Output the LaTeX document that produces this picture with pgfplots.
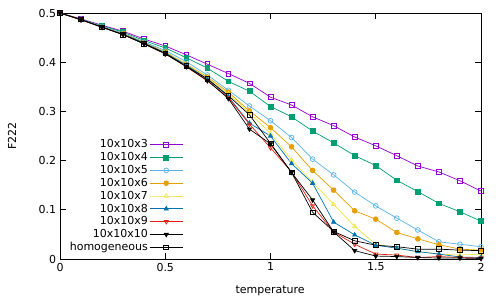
\documentclass[border=0pt]{standalone}
\usepackage{fontspec}
\setmainfont{DejaVu Sans}
\usepackage{pgfplots}
\usepackage{pgfplotstable}
\pgfplotsset{compat=1.18}
\definecolor{gpPurple}{HTML}{9400D3}
\definecolor{gpGreen}{HTML}{009E73}
\definecolor{gpCyan}{HTML}{56B4E9}
\definecolor{gpOrange}{HTML}{E69F00}
\definecolor{gpYellow}{HTML}{F0E442}
\definecolor{gpBlue}{HTML}{0072B2}
\definecolor{gpRed}{HTML}{E51E10}
\pgfplotstableread{
T    a     b     c     d     e     f     g     h     k
0.0  0.500 0.500 0.500 0.500 0.500 0.500 0.500 0.500 0.500
0.1  0.488 0.487 0.487 0.487 0.487 0.487 0.486 0.486 0.487
0.2  0.475 0.474 0.473 0.472 0.472 0.472 0.471 0.471 0.471
0.3  0.463 0.461 0.459 0.458 0.457 0.457 0.456 0.456 0.456
0.4  0.447 0.444 0.441 0.440 0.439 0.439 0.437 0.437 0.438
0.5  0.433 0.429 0.424 0.421 0.420 0.419 0.417 0.417 0.418
0.6  0.415 0.409 0.401 0.396 0.395 0.394 0.391 0.391 0.392
0.7  0.396 0.388 0.374 0.370 0.368 0.366 0.362 0.363 0.366
0.8  0.377 0.361 0.343 0.339 0.336 0.330 0.328 0.326 0.332
0.9  0.357 0.341 0.311 0.301 0.297 0.276 0.274 0.264 0.293
1.0  0.329 0.310 0.281 0.267 0.255 0.250 0.226 0.234 0.235
1.1  0.313 0.289 0.247 0.228 0.201 0.194 0.177 0.176 0.176
1.2  0.289 0.260 0.203 0.180 0.156 0.154 0.108 0.120 0.095
1.3  0.271 0.236 0.171 0.140 0.111 0.075 0.055 0.055 0.056
1.4  0.248 0.210 0.136 0.098 0.066 0.049 0.030 0.017 0.037
1.5  0.230 0.190 0.108 0.081 0.030 0.028 0.010 0.006 0.028
1.6  0.210 0.160 0.083 0.054 0.022 0.022 0.008 0.005 0.025
1.7  0.189 0.137 0.059 0.041 0.015 0.015 0.003 0.003 0.020
1.8  0.177 0.113 0.035 0.029 0.010 0.010 0.005 0.002 0.020
1.9  0.159 0.096 0.030 0.020 0.008 0.004 0.003 0.002 0.018
2.0  0.138 0.077 0.025 0.018 0.010 0.003 0.002 0.001 0.017
}\datatable
\begin{document}
\fontsize{11}{13.2}\selectfont
\begin{tikzpicture}
\useasboundingbox (-60pt,-41pt) rectangle (440pt,259pt);
\begin{axis}[
  scale only axis, width=421pt, height=246pt,
  at={(0,0)}, anchor=south west,
  xmin=0, xmax=2, ymin=0, ymax=0.5,
  xtick={0,0.5,1,1.5,2}, ytick={0,0.1,0.2,0.3,0.4,0.5},
  xticklabels={0,0.5,1,1.5,2},
  yticklabels={0,0.1,0.2,0.3,0.4,0.5},
  tick align=inside, major tick length=6pt,
  minor tick num=0,
  axis line style={line width=0.9pt},
  tick style={black, line width=0.8pt},
  /pgf/number format/assume math mode=true,
  ticklabel style={font=\fontsize{11}{13.2}\selectfont},
  xlabel={temperature}, ylabel={F222},
  xlabel style={at={(axis description cs:0.499,-0.130)}, anchor=center},
  ylabel style={at={(axis description cs:-0.114,0.5)}, anchor=center},
  legend plot pos=right,
  legend cell align=right,
  legend style={at={(axis description cs:0.30,0.012)}, anchor=south east,
    draw=none, fill=none, row sep=0pt, font=\fontsize{11}{13.2}\selectfont,
    nodes={inner sep=1.5pt}},
  legend image code/.code={\draw[mark repeat=2,mark phase=2] plot coordinates {(0cm,0cm) (0.58cm,0cm) (1.16cm,0cm)};},
  every axis plot/.append style={line width=0.7pt, mark size=2.4pt, mark options={solid, line width=0.7pt}},
]
\addplot[gpPurple, mark=square] table[x=T,y=a]{\datatable};
\addlegendentry{10x10x3}
\addplot[gpGreen, mark=square*] table[x=T,y=b]{\datatable};
\addlegendentry{10x10x4}
\addplot[gpCyan, mark=o] table[x=T,y=c]{\datatable};
\addlegendentry{10x10x5}
\addplot[gpOrange, mark=*] table[x=T,y=d]{\datatable};
\addlegendentry{10x10x6}
\addplot[gpYellow, mark=triangle] table[x=T,y=e]{\datatable};
\addlegendentry{10x10x7}
\addplot[gpBlue, mark=triangle*] table[x=T,y=f]{\datatable};
\addlegendentry{10x10x8}
\addplot[gpRed, mark=triangle, mark options={rotate=180}] table[x=T,y=g]{\datatable};
\addlegendentry{10x10x9}
\addplot[black, mark=triangle*, mark options={rotate=180}] table[x=T,y=h]{\datatable};
\addlegendentry{10x10x10}
\addplot[black, mark=square] table[x=T,y=k]{\datatable};
\addlegendentry{homogeneous}
\end{axis}
\end{tikzpicture}
\end{document}
